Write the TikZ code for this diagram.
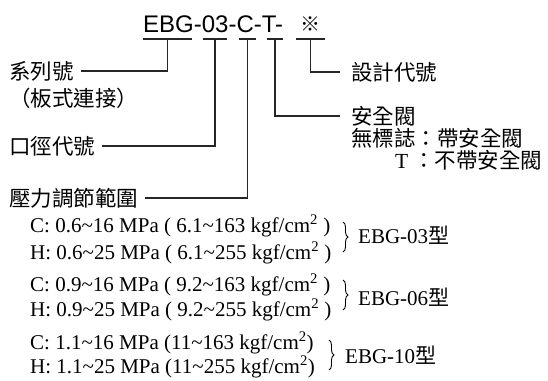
\documentclass[tikz,border=0pt]{standalone}
\usepackage{fontspec}
\setmainfont{Liberation Serif}
\setsansfont{Liberation Sans}
\newfontfamily\cjk{Noto Sans CJK TC}
\usetikzlibrary{decorations.pathreplacing, calc}

\begin{document}
\begin{tikzpicture}[x=1pt, y=-1pt,
  lead/.style={black!85, line width=1.1pt},
  lbl/.style={font=\cjk\fontsize{21.5}{23}\selectfont, inner sep=0pt, anchor=west},
  spec/.style={font=\fontsize{21}{23}\selectfont, inner sep=0pt, anchor=base west},
  brc/.style={decorate, decoration={brace, amplitude=5pt}, line width=0.9pt}]

\useasboundingbox (0,0) rectangle (548,380);

%-- model code
\node[font=\sffamily\fontsize{24}{26}\selectfont, inner sep=0pt, anchor=base west]
  (code) at (143,32) {EBG-03-C-T-};
\node[font=\cjk\fontsize{20}{22}\selectfont, inner sep=0pt] (mark) at (310,24) {※};

%-- underlines below each part of the code
\foreach \n/\a/\b in {1/143/192, 2/203/227, 3/239/256, 4/267/283, 5/296/325}
  \draw[lead] (\a,39) -- coordinate (u\n) (\b,39);

%-- labels on the left
\node[lbl] (series) at (9,71)  {系列號};
\node[lbl] (plate)  at (9,98)  {（板式連接）};
\node[lbl] (bore)   at (9,146) {口徑代號};
\node[lbl] (range)  at (9,198) {壓力調節範圍};

%-- labels on the right
\node[lbl] (design) at (351,72)  {設計代號};
\node[lbl] (valve)  at (351,116) {安全閥};
\node[lbl] (nomark) at (351,138) {無標誌：帶安全閥};
\node[lbl] (tmark)  at (395,160) {\fontspec{Liberation Serif}T\hspace{5pt}\cjk：不帶安全閥};

%-- leaders
\draw[lead, shorten >=7pt] (u1) |- (series.east);
\draw[lead, shorten >=7pt] (u2) |- (bore.east);
\draw[lead, shorten >=7pt] (u3) |- (range.east);
\draw[lead, shorten >=11pt] (u4) |- (valve.west);
\draw[lead, shorten >=11pt] (u5) |- (design.west);

%-- pressure ranges
\node[spec] (c03) at (30,232) {C: 0.6\textasciitilde16 MPa ( 6.1\textasciitilde163 kgf/cm\textsuperscript{2} )};
\node[spec] (h03) at (30,259) {H: 0.6\textasciitilde25 MPa ( 6.1\textasciitilde255 kgf/cm\textsuperscript{2} )};
\node[spec] (c06) at (30,291) {C: 0.9\textasciitilde16 MPa ( 9.2\textasciitilde163 kgf/cm\textsuperscript{2} )};
\node[spec] (h06) at (30,316) {H: 0.9\textasciitilde25 MPa ( 9.2\textasciitilde255 kgf/cm\textsuperscript{2} )};
\node[spec] (c10) at (30,349) {C: 1.1\textasciitilde16 MPa (11\textasciitilde163 kgf/cm\textsuperscript{2})};
\node[spec] (h10) at (30,373) {H: 1.1\textasciitilde25 MPa (11\textasciitilde255 kgf/cm\textsuperscript{2})};

%-- braces and model names
\draw[brc] (343,222) -- (343,252);
\draw[brc] (343,280) -- (343,310);
\draw[brc] (329,340) -- (329,370);
\node[spec, anchor=west] (m03) at (358,235) {EBG-03{\cjk 型}};
\node[spec, anchor=west] (m06) at (358,297) {EBG-06{\cjk 型}};
\node[spec, anchor=west] (m10) at (345,355) {EBG-10{\cjk 型}};

\end{tikzpicture}
\end{document}
